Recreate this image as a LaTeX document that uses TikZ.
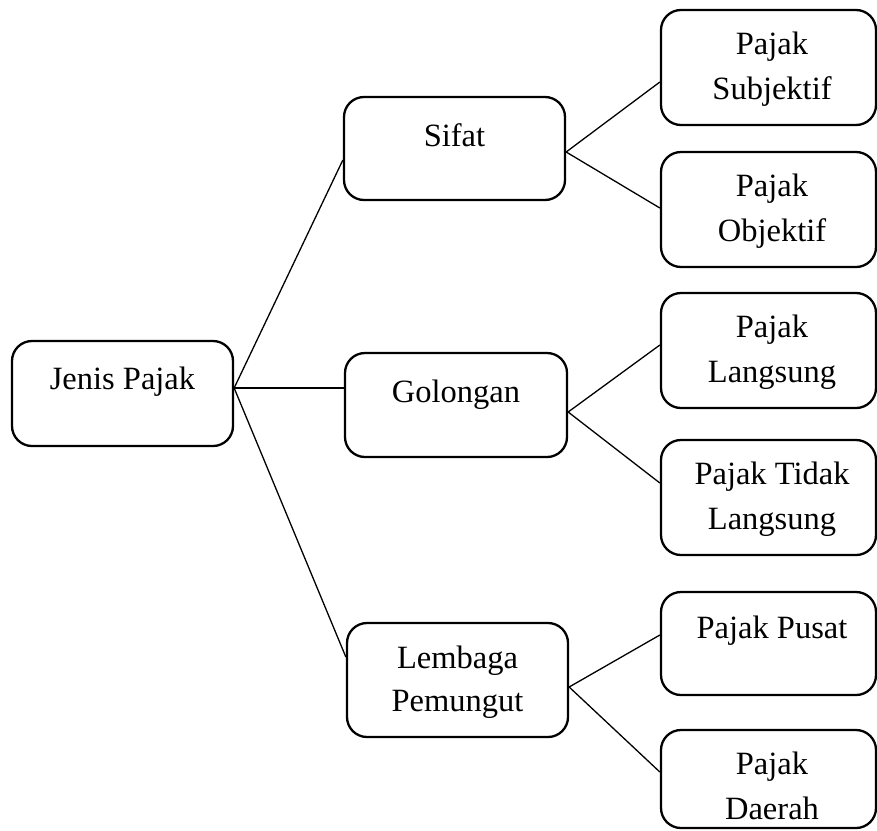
\documentclass[tikz,border=0pt]{standalone}
\usepackage{fontspec}
\setmainfont{Liberation Serif}
\begin{document}
\begin{tikzpicture}[x=1pt,y=-1pt,
  box/.style={draw=black,line width=2.3pt,rounded corners=20pt,inner sep=0pt,fill=white},
  lbl/.style={font=\fontsize{32.5}{45}\selectfont,inner sep=0pt,anchor=base},
  conn/.style={draw=black,line width=1.3pt}]
\useasboundingbox (0,0) rectangle (877,830);
% boxes
\node[box,minimum width=221pt,minimum height=105pt] (root) at (122.5,393.5) {};
\node[box,minimum width=221pt,minimum height=103pt] (sifat) at (454.5,148.5) {};
\node[box,minimum width=222pt,minimum height=104pt] (gol) at (456,405) {};
\node[box,minimum width=221pt,minimum height=114pt] (lem) at (457.5,680) {};
\node[box,minimum width=215pt,minimum height=115pt] (subj) at (768.5,67.5) {};
\node[box,minimum width=215pt,minimum height=115pt] (obj) at (768.5,209.5) {};
\node[box,minimum width=215pt,minimum height=115pt] (lang) at (768.5,350.5) {};
\node[box,minimum width=215pt,minimum height=115pt] (tdk) at (768.5,497.5) {};
\node[box,minimum width=215pt,minimum height=103pt] (pusat) at (768.5,643.5) {};
\node[box,minimum width=215pt,minimum height=98pt] (daerah) at (768.5,779) {};
% texts
\node[lbl] (t0) at (122.5,389) {Jenis Pajak};
\node[lbl] (t1) at (454.5,146) {Sifat};
\node[lbl] (t2) at (456,402) {Golongan};
\node[lbl] (t3a) at (457.5,668) {Lembaga};
\node[lbl] (t3b) at (457.5,711) {Pemungut};
\node[lbl] (t4a) at (772,54) {Pajak};
\node[lbl] (t4b) at (772,99) {Subjektif};
\node[lbl] (t5a) at (772,196) {Pajak};
\node[lbl] (t5b) at (772,241) {Objektif};
\node[lbl] (t6a) at (772,337) {Pajak};
\node[lbl] (t6b) at (772,382) {Langsung};
\node[lbl] (t7a) at (772,484) {Pajak Tidak};
\node[lbl] (t7b) at (772,529) {Langsung};
\node[lbl] (t8) at (772,638) {Pajak Pusat};
\node[lbl] (t9a) at (772,774) {Pajak};
\node[lbl] (t9b) at (772,819) {Daerah};
% connectors
\draw[conn] ([yshift=5.5pt]root.east) -- ([yshift=-11.5pt]sifat.west);
\draw[conn] ([yshift=5.5pt]root.east) -- ([yshift=17pt]gol.west);
\draw[conn] ([yshift=5.5pt]root.east) -- ([yshift=23pt]lem.west);
\draw[conn] ([yshift=-3.5pt]sifat.east) -- ([yshift=-14.5pt]subj.west);
\draw[conn] ([yshift=-3.5pt]sifat.east) -- ([yshift=1.5pt]obj.west);
\draw[conn] ([yshift=-7pt]gol.east) -- ([yshift=5.5pt]lang.west);
\draw[conn] ([yshift=-7pt]gol.east) -- ([yshift=14.5pt]tdk.west);
\draw[conn] ([yshift=-7pt]lem.east) -- ([yshift=8.5pt]pusat.west);
\draw[conn] ([yshift=-7pt]lem.east) -- ([yshift=7pt]daerah.west);
\end{tikzpicture}
\end{document}
